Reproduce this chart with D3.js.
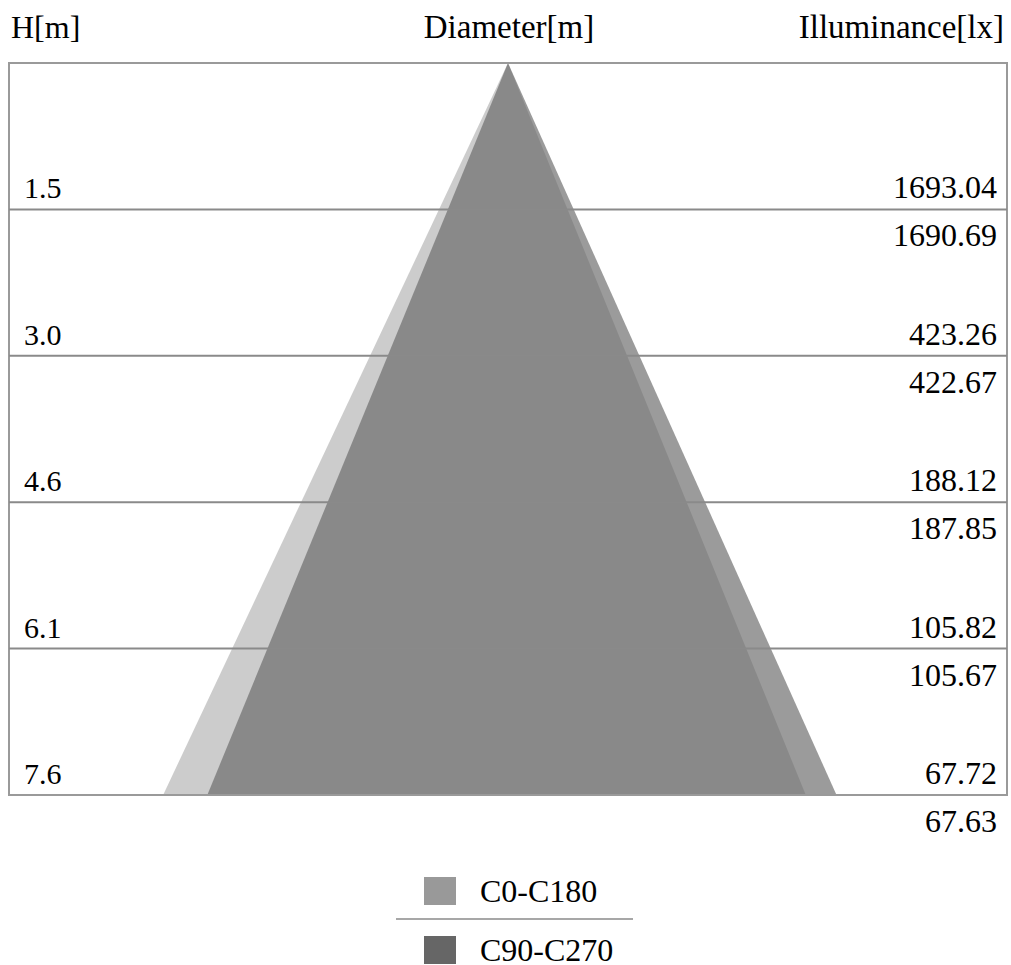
<!DOCTYPE html>
<html>
<head>
<meta charset="utf-8">
<script src="https://cdn.jsdelivr.net/npm/d3@7"></script>
<style>
  body { margin: 0; background: #fff; }
  text { font-family: "Liberation Serif", "Times New Roman", serif; fill: #000; }
</style>
</head>
<body>
<svg width="1011" height="965"></svg>
<script>
// mounting heights (5 ft steps) and illuminance per C-plane
var heights = [1.524, 3.048, 4.572, 6.096, 7.62];
var luxC0 = [1693.04, 423.26, 188.12, 105.82, 67.72];
var luxC90 = [1690.69, 422.67, 187.85, 105.67, 67.63];

// beam edges at the lowest height [left, right] in metres
var beamC0 = [-3.59, 3.10];
var beamC90 = [-3.13, 3.42];

var series = ["C0-C180", "C90-C270"];
var colors = ["#999999", "#666666"];
var opac = [0.5, 0.65];

var svg = d3.select("svg"),
    x0 = 9, x1 = 1007, y0 = 63, y1 = 795;

var y = d3.scaleLinear().domain([0, 7.62]).range([y0, y1]);
var pxPerM = (y1 - y0) / 7.62;
var halfW = (x1 - x0) / 2 / pxPerM;
var x = d3.scaleLinear().domain([-halfW, halfW]).range([x0, x1]);

// header
svg.append("text").attr("x", 11).attr("y", 38).attr("font-size", 32).text("H[m]");
svg.append("text").attr("x", 509).attr("y", 38).attr("font-size", 33)
    .attr("text-anchor", "middle").text("Diameter[m]");
svg.append("text").attr("x", 1004).attr("y", 38).attr("font-size", 33)
    .attr("text-anchor", "end").text("Illuminance[lx]");

// beam triangles
var hMax = heights[heights.length - 1];
[beamC0, beamC90].forEach(function(b, i) {
    var pts = [[0, 0], [b[0], hMax], [b[1], hMax]];
    svg.append("path")
        .attr("d", d3.line().x(function(d) { return x(d[0]); }).y(function(d) { return y(d[1]); })(pts) + "Z")
        .attr("fill", colors[i])
        .attr("fill-opacity", opac[i]);
});

// frame and height lines
svg.append("rect")
    .attr("x", x0).attr("y", y0)
    .attr("width", x1 - x0).attr("height", y1 - y0)
    .attr("fill", "none").attr("stroke", "#9a9a9a").attr("stroke-width", 2);

svg.selectAll("line.h")
    .data(heights.slice(0, -1))
    .enter().append("line")
    .attr("class", "h")
    .attr("x1", x0).attr("x2", x1)
    .attr("y1", function(d) { return y(d); })
    .attr("y2", function(d) { return y(d); })
    .attr("stroke", "#8a8a8a").attr("stroke-width", 2);

// labels
svg.selectAll("text.hl")
    .data(heights)
    .enter().append("text")
    .attr("class", "hl")
    .attr("x", 24)
    .attr("y", function(d) { return y(d) - 11; })
    .attr("font-size", 30)
    .text(function(d) { return d.toFixed(1); });

svg.selectAll("text.l0")
    .data(heights)
    .enter().append("text")
    .attr("class", "l0")
    .attr("x", 997)
    .attr("text-anchor", "end")
    .attr("y", function(d) { return y(d) - 11; })
    .attr("font-size", 32)
    .text(function(d, i) { return luxC0[i].toFixed(2); });

svg.selectAll("text.l90")
    .data(heights)
    .enter().append("text")
    .attr("class", "l90")
    .attr("x", 997)
    .attr("text-anchor", "end")
    .attr("y", function(d) { return y(d) + 37; })
    .attr("font-size", 32)
    .text(function(d, i) { return luxC90[i].toFixed(2); });

// legend
var leg = svg.append("g");
series.forEach(function(s, i) {
    var ly = 877 + i * 59;
    leg.append("rect").attr("x", 424).attr("y", ly).attr("width", 32).attr("height", 28)
        .attr("fill", colors[i]);
    leg.append("text").attr("x", 480).attr("y", ly + 25).attr("font-size", 32).text(s);
});
leg.append("line").attr("x1", 396).attr("x2", 633).attr("y1", 919).attr("y2", 919)
    .attr("stroke", "#8a8a8a").attr("stroke-width", 1.5);
</script>
</body>
</html>
